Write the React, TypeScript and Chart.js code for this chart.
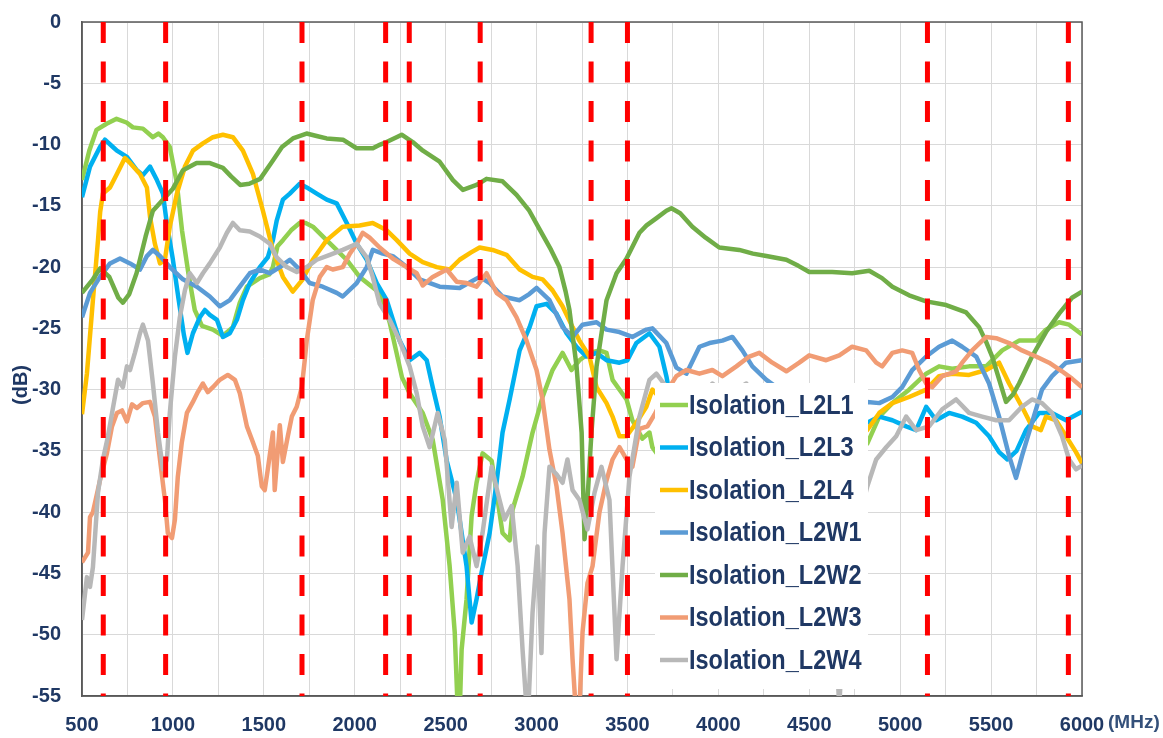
import React, { useEffect, useRef } from 'react';
import { Chart, registerables } from 'chart.js';

Chart.register(...registerables);

type Pt = [number, number];

// Series names and colours
const seriesNames = [
  'Isolation_L2L1',
  'Isolation_L2L3',
  'Isolation_L2L4',
  'Isolation_L2W1',
  'Isolation_L2W2',
  'Isolation_L2W3',
  'Isolation_L2W4',
];
const seriesColors = ['#92D050', '#00B0F0', '#FFC000', '#5B9BD5', '#70AD47', '#F19C74', '#B8B8B8'];

// Band edge markers (MHz)
const bandEdgesMHz = [617, 960, 1710, 2170, 2300, 2690, 3300, 3500, 5150, 5925];

// Axis ranges
const xMin = 500, xMax = 6000, xGridStep = 250, xLabelStep = 500;
const yMin = -55, yMax = 0, yStep = 5;

// [MHz, dB]
const L2L1: Pt[] = [
  [500,-12.9],[540,-10.5],[580,-8.8],[635,-8.3],[690,-7.9],[745,-8.2],[780,-8.6],[835,-8.7],[890,-9.4],[920,-9.1],
  [945,-9.4],[983,-10.2],[1020,-13],[1050,-17],[1085,-20.5],[1120,-23.5],[1160,-24.8],[1220,-25.1],[1275,-25.6],[1330,-24.9],
  [1368,-22.9],[1407,-21.6],[1478,-20.9],[1530,-20.6],[1550,-20],[1575,-18.3],[1605,-17.8],[1650,-17],[1697,-16.4],[1730,-16.4],
  [1770,-16.7],[1845,-17.8],[1900,-18.6],[1955,-19.4],[2027,-20.8],[2120,-21.9],[2154,-22.7],[2192,-24.5],[2230,-27],[2260,-29],
  [2302,-30.3],[2374,-31.9],[2429,-34.1],[2484,-39],[2522,-44.4],[2550,-49.8],[2566,-56],[2578,-56],[2588,-51.2],[2615,-47.1],
  [2643,-40.3],[2670,-37.6],[2703,-35.2],[2753,-35.8],[2780,-38.4],[2813,-41.7],[2852,-42.3],[2868,-39.8],[2923,-37.1],[2978,-33.5],
  [3033,-30.6],[3088,-28.4],[3143,-27],[3192,-28.4],[3236,-27.6],[3291,-27],[3346,-26.8],[3385,-27],[3418,-29.2],[3495,-30.8],
  [3527,-32.5],[3582,-34],[3621,-33.5],[3637,-34.7],[3700,-36],[3800,-37],[3900,-36.5],[4000,-36],[4200,-36],[4400,-35.5],
  [4600,-35],[4760,-35],[4819,-34.4],[4885,-32.2],[4957,-31.1],[5049,-30],[5143,-28.7],[5214,-28.1],[5286,-28.3],[5379,-28.1],
  [5473,-28.1],[5561,-26.8],[5654,-26],[5747,-26],[5802,-25.1],[5874,-24.5],[5929,-24.7],[6000,-25.5],
];

const L2L3: Pt[] = [
  [500,-14.3],[544,-11.8],[599,-10.2],[626,-9.6],[670,-10.2],[692,-10.5],[747,-11],[802,-12.1],[835,-12.5],[874,-11.8],
  [912,-12.9],[945,-14],[967,-16.5],[1000,-19.4],[1030,-22.5],[1060,-25.5],[1080,-27],[1110,-25.4],[1148,-24.1],[1176,-23.5],
  [1203,-23.9],[1242,-24.3],[1275,-25.7],[1313,-25.4],[1352,-24.3],[1385,-22.7],[1423,-21.3],[1478,-20],[1522,-19.2],[1550,-17.8],
  [1571,-16.2],[1605,-14.5],[1643,-14],[1697,-13.2],[1736,-13.5],[1791,-14],[1846,-14.5],[1901,-14.8],[1956,-16.4],[2011,-18.1],
  [2066,-19.4],[2121,-21.3],[2176,-22.7],[2210,-24.3],[2247,-26],[2302,-27.6],[2357,-27],[2396,-27.6],[2429,-29.8],[2467,-32.2],
  [2506,-35.8],[2561,-39],[2615,-44.4],[2643,-49],[2670,-47.1],[2698,-44.9],[2742,-41.7],[2780,-37.6],[2813,-33.5],[2852,-30.8],
  [2907,-26.8],[2962,-24.9],[3000,-23.2],[3055,-23],[3110,-23.8],[3165,-25.4],[3220,-26.5],[3275,-27.3],[3330,-27],[3385,-27.6],
  [3456,-27.8],[3500,-27.6],[3549,-26.2],[3621,-25.4],[3676,-26.5],[3714,-28.9],[3740,-31],[3800,-33],[3900,-33.5],[4000,-33],
  [4200,-33],[4400,-33.5],[4600,-33],[4750,-32.8],[4819,-32.7],[4885,-32.2],[4957,-32.5],[5033,-33],[5088,-33.3],[5143,-31.4],
  [5198,-32.5],[5269,-31.9],[5341,-32.2],[5418,-32.7],[5489,-33.8],[5544,-35.1],[5590,-35.7],[5640,-35],[5692,-33.3],[5764,-31.9],
  [5835,-31.9],[5912,-32.5],[6000,-31.8],
];

const L2L4: Pt[] = [
  [500,-32],[527,-28.7],[560,-22.7],[588,-17.8],[600,-15.5],[615,-14],[654,-13.5],[692,-12.4],[736,-11.1],[764,-11.5],
  [819,-12.4],[857,-13.5],[874,-15.9],[901,-18.1],[929,-19.7],[956,-19.4],[983,-16.7],[1022,-14],[1066,-11.8],[1110,-10.5],
  [1165,-9.9],[1220,-9.4],[1275,-9.2],[1330,-9.4],[1385,-10.5],[1440,-12.4],[1495,-15.4],[1550,-18.6],[1605,-20.8],[1659,-22],
  [1714,-21],[1769,-19.4],[1846,-17.8],[1934,-16.7],[2027,-16.6],[2099,-16.4],[2176,-17],[2231,-17.8],[2302,-18.9],[2374,-19.6],
  [2451,-20],[2522,-20.2],[2577,-19.4],[2640,-18.8],[2687,-18.4],[2758,-18.6],[2835,-19],[2907,-20.2],[2978,-20.8],[3033,-21],
  [3088,-21.9],[3143,-23.2],[3198,-24.9],[3236,-26],[3291,-27.3],[3330,-29.8],[3385,-31.1],[3418,-32.2],[3456,-33.8],[3495,-33.8],
  [3549,-32.7],[3604,-31.4],[3637,-30],[3700,-31],[3800,-33],[4000,-34],[4200,-34.5],[4400,-35],[4600,-34.5],[4750,-34],
  [4819,-33.3],[4885,-31.9],[4957,-31.1],[5049,-30.6],[5143,-30],[5214,-28.9],[5286,-28.7],[5379,-28.8],[5473,-28.4],[5544,-27.8],
  [5599,-29.5],[5670,-31.4],[5725,-33],[5774,-33.3],[5802,-32.2],[5857,-32.5],[5912,-33.8],[5967,-35.1],[6000,-36],
];

const L2W1: Pt[] = [
  [500,-24.1],[544,-22.1],[599,-20.8],[654,-19.7],[709,-19.3],[764,-19.7],[819,-20.2],[857,-19.1],[890,-18.6],[929,-19.1],
  [983,-20],[1055,-21],[1132,-21.6],[1203,-22.4],[1258,-23.2],[1313,-22.7],[1368,-21.6],[1423,-20.5],[1478,-20.2],[1533,-20.5],
  [1588,-20],[1643,-19.4],[1697,-20.2],[1752,-21.3],[1824,-21.6],[1901,-22.1],[1934,-22.4],[2011,-21.3],[2066,-20],[2099,-18.6],
  [2154,-18.9],[2209,-19.1],[2286,-20],[2357,-21],[2467,-21.6],[2577,-21.7],[2687,-20.8],[2742,-21.3],[2813,-22.4],[2907,-22.7],
  [2960,-22.2],[3000,-21.7],[3071,-22.7],[3143,-24.9],[3198,-25.7],[3253,-24.7],[3330,-24.5],[3385,-25.1],[3456,-25.3],[3527,-25.7],
  [3604,-25.1],[3637,-25],[3714,-26.2],[3769,-28.2],[3824,-28.7],[3896,-26.5],[3951,-26.2],[4022,-26],[4077,-25.7],[4132,-26.8],
  [4187,-28.1],[4264,-29.2],[4319,-29.8],[4400,-31],[4500,-31.5],[4600,-31.5],[4700,-31.2],[4819,-31],[4885,-31.1],[4957,-30.6],
  [5011,-29.8],[5066,-28.4],[5143,-27.3],[5214,-26.5],[5286,-26],[5341,-26.5],[5418,-27.3],[5489,-29.5],[5544,-32.2],[5599,-35.4],
  [5637,-37.2],[5670,-35.4],[5725,-32.7],[5780,-30],[5835,-28.9],[5912,-27.8],[6000,-27.6],
];

const L2W2: Pt[] = [
  [500,-22.1],[560,-21],[600,-20.1],[650,-20.8],[700,-22.5],[725,-22.9],[760,-22.2],[800,-20.5],[850,-17.5],[890,-15.4],
  [945,-14.5],[1000,-13.6],[1055,-12.1],[1130,-11.5],[1200,-11.5],[1275,-11.9],[1320,-12.6],[1370,-13.3],[1420,-13.2],[1480,-12.8],
  [1550,-11.3],[1600,-10.2],[1660,-9.5],[1735,-9.1],[1790,-9.3],[1845,-9.5],[1935,-9.6],[2010,-10.3],[2060,-10.3],[2100,-10.3],
  [2140,-10],[2175,-9.8],[2230,-9.4],[2258,-9.2],[2319,-9.8],[2375,-10.5],[2467,-11.4],[2540,-12.9],[2595,-13.7],[2670,-13.3],
  [2725,-12.8],[2813,-13],[2890,-14.1],[2960,-15.4],[3016,-16.9],[3080,-18.6],[3126,-20],[3160,-22],[3181,-23.5],[3220,-28.1],
  [3248,-33.5],[3258,-39],[3264,-42.2],[3280,-39],[3302,-33.5],[3330,-28.1],[3385,-22.7],[3440,-20.5],[3495,-19.3],[3566,-17.2],
  [3605,-16.6],[3660,-16],[3714,-15.4],[3742,-15.2],[3790,-15.6],[3857,-16.7],[3930,-17.6],[4005,-18.4],[4115,-18.6],[4190,-18.9],
  [4264,-19.1],[4374,-19.4],[4440,-19.9],[4500,-20.4],[4626,-20.4],[4736,-20.5],[4830,-20.3],[4900,-20.9],[4957,-21.6],[5049,-22.3],
  [5143,-22.8],[5253,-23.1],[5363,-23.7],[5434,-24.9],[5470,-26],[5506,-27.3],[5545,-29.2],[5582,-31],[5620,-30.4],[5654,-29.5],
  [5725,-27.3],[5802,-25.3],[5874,-23.8],[5945,-22.5],[6000,-22],
];

const L2W3: Pt[] = [
  [500,-44.1],[533,-43.3],[544,-40.4],[560,-40],[599,-37.4],[637,-35.2],[665,-33],[692,-31.9],[720,-31.7],[747,-32.6],
  [775,-31.2],[802,-31.5],[835,-31.1],[874,-31],[901,-32.2],[929,-35.7],[956,-39],[972,-41.7],[995,-42.1],[1011,-40.6],
  [1027,-37.1],[1049,-34.3],[1077,-31.9],[1110,-31],[1137,-30.2],[1165,-29.5],[1192,-30.2],[1220,-29.8],[1258,-29.2],[1302,-28.8],
  [1341,-29.2],[1368,-30.3],[1407,-33],[1440,-34.3],[1467,-35.4],[1489,-37.9],[1505,-38.2],[1522,-36.5],[1550,-33.5],[1560,-38.2],
  [1588,-32.9],[1605,-35.9],[1632,-33.8],[1654,-32.2],[1681,-31.4],[1709,-29.8],[1725,-27.6],[1736,-26],[1769,-22.7],[1808,-20.8],
  [1846,-20],[1879,-20.2],[1934,-20],[1973,-18.9],[2011,-18.1],[2044,-17.2],[2082,-17.6],[2137,-18.4],[2209,-19.3],[2286,-20],
  [2341,-20.5],[2374,-21.5],[2429,-20.8],[2506,-20.2],[2561,-21.2],[2615,-21.3],[2670,-21.6],[2725,-20.5],[2780,-22.1],[2835,-22.7],
  [2890,-24.1],[2945,-26],[3000,-28.4],[3033,-30.8],[3071,-34.9],[3110,-37.9],[3143,-41.7],[3181,-47.1],[3198,-52],[3215,-56],
  [3236,-56],[3253,-49.8],[3280,-45.8],[3308,-44.4],[3346,-40],[3385,-37.4],[3418,-35.7],[3456,-34.7],[3495,-35.7],[3527,-36.3],
  [3566,-33.2],[3610,-33],[3650,-32],[3700,-30.5],[3769,-28.9],[3824,-28.4],[3896,-28.7],[3967,-28.4],[4022,-28.9],[4099,-28.1],
  [4170,-27.3],[4225,-27],[4297,-27.8],[4374,-28.5],[4445,-27.8],[4500,-27.2],[4593,-27.6],[4665,-27.2],[4736,-26.5],[4813,-26.8],
  [4868,-27.8],[4901,-28.1],[4957,-27],[5011,-26.8],[5066,-27],[5104,-28.4],[5143,-29.5],[5176,-29.8],[5231,-28.9],[5308,-28.5],
  [5341,-27.8],[5396,-26.8],[5473,-25.7],[5528,-25.8],[5599,-26.2],[5670,-26.8],[5747,-27.3],[5819,-27.8],[5890,-28.5],[5945,-29.1],
  [6000,-29.8],
];

const L2W4: Pt[] = [
  [500,-48.8],[527,-45.3],[544,-46.1],[560,-44.5],[588,-38.4],[615,-35.7],[643,-33.8],[670,-31.5],[698,-29.2],[725,-29.8],
  [747,-28.1],[764,-28.4],[791,-27],[819,-25.4],[835,-24.7],[863,-26],[890,-29.5],[918,-33.5],[945,-36.5],[967,-35.7],
  [983,-31.9],[1011,-27.3],[1038,-24.1],[1066,-21.9],[1093,-20.5],[1132,-21.3],[1165,-20.5],[1203,-19.7],[1258,-18.4],[1297,-17.2],
  [1330,-16.4],[1368,-17],[1423,-17.1],[1478,-17.5],[1533,-18.1],[1571,-19.2],[1626,-20],[1681,-20.4],[1736,-20],[1791,-19.4],
  [1863,-19],[1934,-18.6],[2011,-18.1],[2066,-19.2],[2099,-20.8],[2137,-23],[2192,-24.3],[2247,-26],[2302,-28.1],[2341,-30.3],
  [2374,-33],[2412,-34.7],[2456,-31.9],[2495,-34.1],[2533,-41.2],[2561,-37.6],[2594,-43.3],[2632,-42],[2670,-44.4],[2703,-41.7],
  [2753,-36.3],[2786,-38.4],[2824,-40.6],[2863,-39.5],[2896,-44.4],[2923,-51.2],[2945,-56],[2955,-56],[2978,-48.2],[3005,-42.8],
  [3027,-51.5],[3044,-41.7],[3071,-36.3],[3110,-36.9],[3143,-37.6],[3170,-35.7],[3198,-38.2],[3236,-39],[3280,-41.4],[3319,-38.4],
  [3357,-36.3],[3401,-39],[3440,-52],[3473,-44.4],[3511,-37.1],[3566,-32.2],[3621,-29.2],[3659,-28.7],[3700,-29.5],[3800,-31],
  [3900,-30.5],[3967,-29.5],[4050,-30.5],[4154,-29.5],[4250,-32],[4400,-34],[4550,-38],[4640,-48],[4665,-56],[4690,-48],
  [4750,-42],[4819,-37.9],[4868,-35.7],[4923,-34.7],[4978,-33.8],[5033,-32.2],[5088,-33.3],[5159,-33],[5231,-31.6],[5308,-30.8],
  [5379,-31.9],[5451,-32.2],[5528,-32.5],[5599,-32.5],[5670,-31.4],[5725,-30.8],[5780,-31.1],[5835,-31.9],[5890,-33.8],[5929,-35.7],
  [5967,-36.5],[6000,-36.2],
];

const seriesData: Pt[][] = [L2L1, L2L3, L2L4, L2W1, L2W2, L2W3, L2W4];

const TEXT_COLOR = '#1F3864';
const FONT_FAMILY = '"Liberation Sans", Arial, Helvetica, sans-serif';

const decorPlugin = {
  id: 'decor',
  beforeDatasetsDraw(chart: any) {
    const { ctx, chartArea } = chart;
    ctx.save();
    ctx.strokeStyle = '#595959';
    ctx.lineWidth = 1.5;
    ctx.strokeRect(chartArea.left, chartArea.top, chartArea.right - chartArea.left, chartArea.bottom - chartArea.top);
    ctx.restore();
  },
  afterDatasetsDraw(chart: any) {
    const { ctx } = chart;
    // legend box
    const boxL = 655, boxT = 383, boxR = 868, boxB = 689;
    ctx.save();
    ctx.fillStyle = '#FFFFFF';
    ctx.fillRect(boxL, boxT, boxR - boxL, boxB - boxT);
    ctx.font = `bold 28px ${FONT_FAMILY}`;
    ctx.textBaseline = 'middle';
    ctx.textAlign = 'left';
    seriesNames.forEach((name, i) => {
      const yc = 405 + i * 42.5;
      ctx.strokeStyle = seriesColors[i];
      ctx.lineWidth = 4.5;
      ctx.lineCap = 'butt';
      ctx.beginPath();
      ctx.moveTo(660, yc);
      ctx.lineTo(688, yc);
      ctx.stroke();
      ctx.save();
      ctx.translate(689, yc + 1);
      ctx.scale(0.84, 1);
      ctx.fillStyle = TEXT_COLOR;
      ctx.fillText(name, 0, 0);
      ctx.restore();
    });
    ctx.restore();
  },
  afterDraw(chart: any) {
    const { ctx, chartArea } = chart;
    ctx.save();
    ctx.fillStyle = TEXT_COLOR;
    ctx.font = `bold 20px ${FONT_FAMILY}`;
    ctx.textBaseline = 'middle';
    ctx.textAlign = 'center';
    ctx.translate(21, 385);
    ctx.rotate(-Math.PI / 2);
    ctx.fillText('(dB)', 0, 0);
    ctx.restore();

    ctx.save();
    ctx.fillStyle = '#34507A';
    ctx.font = `bold 19px ${FONT_FAMILY}`;
    ctx.textBaseline = 'middle';
    ctx.textAlign = 'left';
    ctx.fillText('(MHz)', chartArea.right + 26, 723);
    ctx.restore();
  },
};

export default function App() {
  const canvasRef = useRef<HTMLCanvasElement | null>(null);

  useEffect(() => {
    if (!canvasRef.current) return;
    const markerSets = bandEdgesMHz.map((f) => ({
      label: `edge ${f}`,
      data: [{ x: f, y: yMax }, { x: f, y: yMin }],
      borderColor: '#FF0000',
      borderWidth: 5,
      borderDash: [21, 18.5],
      pointRadius: 0,
      fill: false,
      order: 0,
    }));
    const lineSets = seriesNames.map((name, i) => ({
      label: name,
      data: seriesData[i].map(([x, y]) => ({ x, y })),
      borderColor: seriesColors[i],
      backgroundColor: seriesColors[i],
      borderWidth: 4.5,
      pointRadius: 0,
      tension: 0,
      fill: false,
      borderJoinStyle: 'round' as const,
      order: 7 - i,
    }));

    const chart = new Chart(canvasRef.current, {
      type: 'line',
      data: { datasets: [...markerSets, ...lineSets] as any },
      options: {
        animation: false,
        responsive: false,
        layout: { padding: { left: 0, top: 22, right: 81, bottom: 0 } },
        plugins: { legend: { display: false }, tooltip: { enabled: false } },
        scales: {
          x: {
            type: 'linear',
            min: xMin,
            max: xMax,
            afterFit: (s: any) => { s.height = 42; },
            grid: { color: '#D9D9D9', lineWidth: 1, drawTicks: false },
            border: { color: '#595959', width: 1.5 },
            ticks: {
              stepSize: xGridStep,
              autoSkip: false,
              maxRotation: 0,
              padding: 17,
              color: TEXT_COLOR,
              font: { family: FONT_FAMILY, size: 20, weight: 'bold' },
              callback: (v: any) => (Number(v) % xLabelStep === 0 ? String(v) : ''),
            },
          },
          y: {
            min: yMin,
            max: yMax,
            afterFit: (s: any) => { s.width = 82; },
            grid: { color: '#D9D9D9', lineWidth: 1, drawTicks: true, tickLength: 21, tickColor: 'rgba(0,0,0,0)' },
            border: { color: '#595959', width: 1.5 },
            ticks: {
              stepSize: yStep,
              padding: 0,
              color: TEXT_COLOR,
              font: { family: FONT_FAMILY, size: 20, weight: 'bold' },
            },
          },
        },
      },
      plugins: [decorPlugin],
    });
    return () => chart.destroy();
  }, []);

  return (
    <div style={{ position: 'fixed', left: 0, top: 0, width: 1163, height: 738, background: '#fff' }}>
      <canvas ref={canvasRef} width={1163} height={738} style={{ display: 'block' }} />
    </div>
  );
}
